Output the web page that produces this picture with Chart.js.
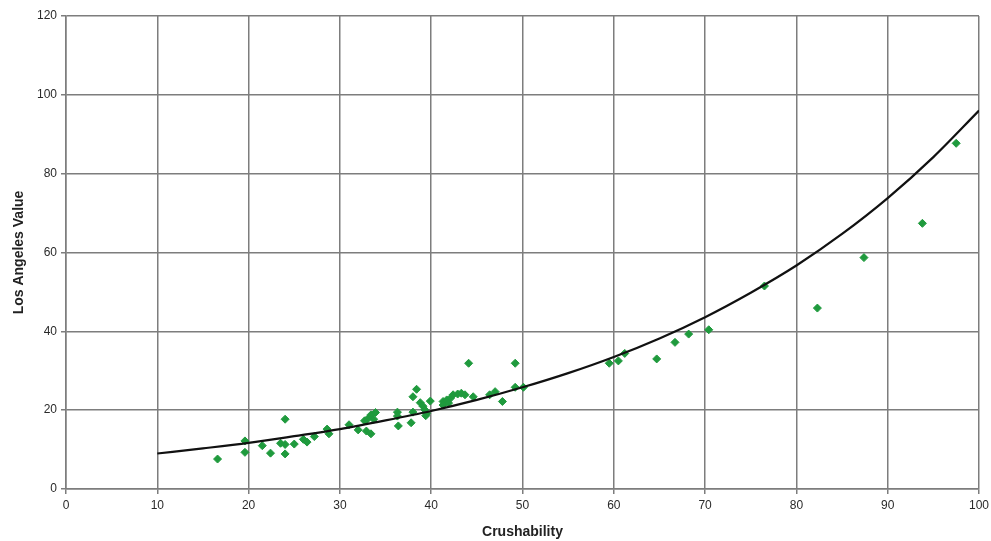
<!DOCTYPE html>
<html>
<head>
<meta charset="utf-8">
<script src="https://cdn.jsdelivr.net/npm/chart.js@4/dist/chart.umd.min.js"></script>
<style>
html,body{margin:0;padding:0;background:#fff;}
#wrap{width:991px;height:541px;position:relative;}
</style>
</head>
<body>
<div id="wrap"><canvas id="c" width="991" height="541"></canvas></div>
<script>
// Observed samples
const crushability = [16.6,19.6,19.6,21.5,22.4,23.5,24.0,24.0,24.0,25.0,26.0,26.4,27.2,28.6,28.8,31.0,32.0,32.7,33.0,33.4,33.9,32.9,33.4,33.7,36.3,36.3,36.4,37.8,38.0,38.4,38.8,39.1,38.0,39.3,39.5,39.4,39.9,41.3,41.7,42.1,42.4,42.9,43.3,43.7,44.6,41.3,41.9,44.1,49.2,46.4,47.0,47.8,49.2,50.1,59.5,60.5,61.2,64.7,66.7,68.2,70.4,76.5,82.3,87.4,93.8,97.5];
const laValue = [7.6,12.2,9.3,11.0,9.1,11.6,11.3,17.7,8.9,11.4,12.6,11.9,13.3,15.2,14.0,16.3,15.0,17.3,17.7,18.8,19.4,14.7,14.0,17.7,19.5,18.5,16.0,16.8,23.4,25.3,21.9,21.0,19.5,20.1,19.2,18.6,22.3,22.2,22.6,23.0,23.9,24.1,24.3,23.9,23.4,21.3,21.8,31.9,31.9,23.9,24.7,22.2,25.8,25.8,31.9,32.5,34.4,33.0,37.2,39.3,40.4,51.5,45.9,58.7,67.4,87.7];
// Trend curve
const trendX = [10,15,20,25,30,35,40,45,50,55,60,65,70,75,80,85,90,95,100];
const trendY = [9.0,10.3,11.7,13.4,15.2,17.4,19.8,22.6,25.8,29.4,33.5,38.2,43.6,49.8,56.7,64.7,73.8,84.2,96.0];
const xTicks = [0,10,20,30,40,50,60,70,80,90,100];
const yTicks = [0,20,40,60,80,100,120];

const pts = crushability.map((x,i)=>({x:x,y:laValue[i]}));
const trend = trendX.map((x,i)=>({x:x,y:trendY[i]}));

const gridColor = '#7d7d7d';
const tickFont = {family:"'Liberation Sans Narrow','Liberation Sans',Arial,sans-serif", size:12};
const titleFont = {family:"'Liberation Sans Narrow','Liberation Sans',Arial,sans-serif", size:14, weight:'bold'};

new Chart(document.getElementById('c'), {
  type:'scatter',
  data:{datasets:[
    {label:'Trend', type:'line', data:trend, borderColor:'#111', borderWidth:2.2, pointRadius:0, fill:false, cubicInterpolationMode:'monotone', order:1},
    {label:'Data', data:pts, pointStyle:'rectRot', pointRadius:4, backgroundColor:'#1f9a3d', borderColor:'#1f9a3d', borderWidth:1, order:2}
  ]},
  options:{
    responsive:false, animation:false,
    layout:{padding:{top:16,right:12,left:0,bottom:0}},
    plugins:{legend:{display:false}, tooltip:{enabled:false}},
    scales:{
      x:{type:'linear', min:0, max:100,
        afterBuildTicks:s=>{s.ticks = xTicks.map(v=>({value:v}));},
        afterFit:s=>{s.height=52; s.paddingRight=0; s.paddingLeft=0;},
        grid:{color:gridColor, lineWidth:1.5, tickLength:5, drawTicks:true},
        border:{color:gridColor, width:1.5},
        ticks:{color:'#2a2a2a', font:tickFont, padding:4, maxRotation:0},
        title:{display:true, text:'Crushability', color:'#222', font:titleFont, padding:{top:4,bottom:0}}
      },
      y:{type:'linear', min:0, max:120,
        afterBuildTicks:s=>{s.ticks = yTicks.map(v=>({value:v}));},
        afterFit:s=>{s.width=66; s.paddingTop=0; s.paddingBottom=0;},
        grid:{color:gridColor, lineWidth:1.5, tickLength:5, drawTicks:true},
        border:{color:gridColor, width:1.5},
        ticks:{color:'#2a2a2a', font:tickFont, padding:4},
        title:{display:true, text:'Los Angeles Value', color:'#222', font:titleFont, padding:{top:11,bottom:0}}
      }
    }
  }
});
</script>
</body>
</html>
